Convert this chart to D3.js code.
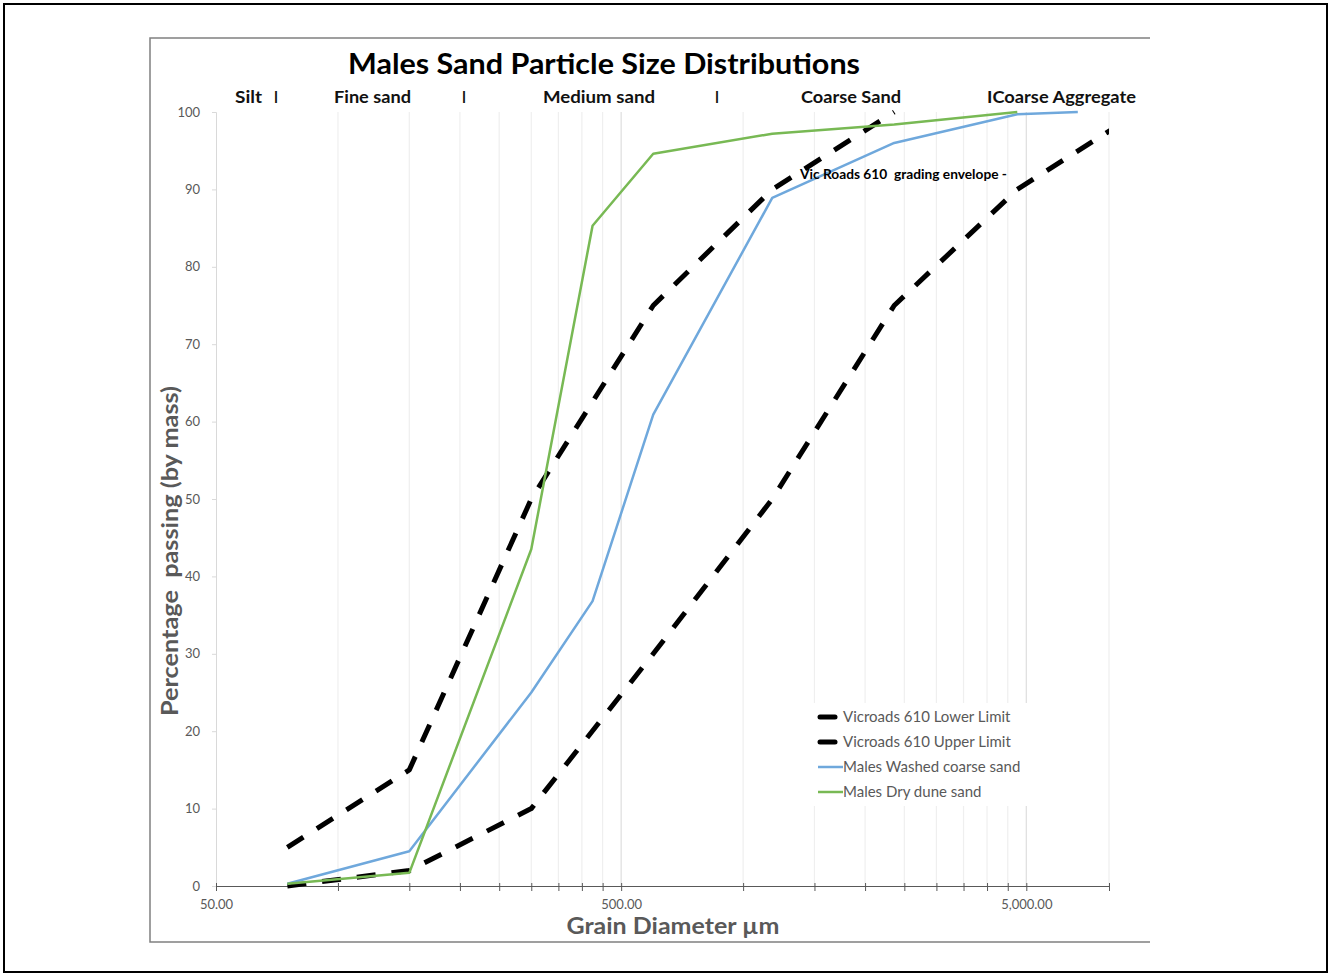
<!DOCTYPE html>
<html>
<head>
<meta charset="utf-8">
<script src="https://cdn.jsdelivr.net/npm/d3@7"></script>
<style>
  html, body { margin: 0; padding: 0; background: #fff; }
  svg { display: block; font-family: Lato, "Open Sans", sans-serif; }
</style>
</head>
<body>
<svg id="chart" width="1331" height="977"></svg>
<script>
// ---- data ----
const title = "Males Sand Particle Size Distributions";
const xTitle = "Grain Diameter µm";
const yTitle = "Percentage  passing (by mass)";
const annotation = "Vic Roads 610  grading envelope -";

const lowerSizes = [75, 150, 300, 600, 1180, 2360, 4750, 9500];
const lowerPass  = [0, 2, 10, 30, 50, 75, 90, 100];
const upperSizes = [75, 150, 300, 600, 1180, 2360];
const upperPass  = [5, 15, 50, 75, 90, 100];
const washedSizes = [75, 150, 300, 425, 600, 1180, 2360, 4750, 6700];
const washedPass  = [0.3, 4.5, 25, 36.8, 60.9, 88.9, 96, 99.7, 100];
const duneSizes = [75, 150, 300, 425, 600, 1180, 2360, 4750];
const dunePass  = [0.3, 1.7, 43.5, 85.3, 94.6, 97.2, 98.4, 100];

const seriesNames = ["Vicroads 610 Lower Limit", "Vicroads 610 Upper Limit",
                     "Males Washed coarse sand", "Males Dry dune sand"];

const xDomain = [50, 8000];
const xMajorTicks = [50, 500, 5000];
const xMinorTicks = [100, 150, 200, 250, 300, 350, 400, 450,
                     1000, 1500, 2000, 2500, 3000, 3500, 4000, 4500, 8000];
const yTicks = [0, 10, 20, 30, 40, 50, 60, 70, 80, 90, 100];

const bandLabels = ["Silt", "I", "Fine sand", "I", "Medium sand", "I", "Coarse Sand", "ICoarse Aggregate"];

// ---- layout ----
const svg = d3.select("#chart");
const L = 216, R = 1109, T = 112, B = 886;
const x = d3.scaleLog().domain(xDomain).range([L, R]);
const y = d3.scaleLinear().domain([0, 100]).range([B, T]);

// outer frame
svg.append("rect").attr("x", 4).attr("y", 4).attr("width", 1323).attr("height", 968)
  .attr("fill", "none").attr("stroke", "#000").attr("stroke-width", 2);
// chart area border (top, left, bottom)
svg.append("path").attr("d", "M1150,38 H150 V942 H1150")
  .attr("fill", "none").attr("stroke", "#808080").attr("stroke-width", 1.5);

// gridlines
const gridVals = xMinorTicks.concat(xMajorTicks.slice(1));
svg.append("g").selectAll("line").data(gridVals).join("line")
  .attr("x1", d => x(d)).attr("x2", d => x(d))
  .attr("y1", T).attr("y2", B)
  .attr("stroke", d => xMajorTicks.includes(d) ? "#dedede" : "#efefef")
  .attr("stroke-width", 1.2);

// y axis
const yAxis = d3.axisLeft(y).tickValues(yTicks).tickSize(4).tickPadding(12);
const gy = svg.append("g").attr("transform", `translate(${L},0)`).call(yAxis);
gy.select(".domain").attr("stroke", "#d9d9d9");
gy.selectAll(".tick line").attr("stroke", "#d9d9d9");
gy.selectAll(".tick text").attr("fill", "#595959").attr("font-size", 13)
  .attr("font-family", "Lato, 'Open Sans', sans-serif");

// x axis
const fmt = d3.format(",.2f");
const xAxis = d3.axisBottom(x).tickValues(xMajorTicks.concat(xMinorTicks))
  .tickSizeInner(5).tickSizeOuter(0).tickPadding(9)
  .tickFormat(d => xMajorTicks.includes(d) ? fmt(d) : "");
const gx = svg.append("g").attr("transform", `translate(0,${B})`).call(xAxis);
gx.select(".domain").attr("stroke", "#595959").attr("stroke-width", 1.2);
gx.selectAll(".tick line").attr("stroke", "#595959").attr("y1", -3);
gx.selectAll(".tick text").attr("fill", "#595959").attr("font-size", 13)
  .attr("font-family", "Lato, 'Open Sans', sans-serif");

// clip
svg.append("clipPath").attr("id", "plotclip").append("rect")
  .attr("x", L).attr("y", T - 6).attr("width", R - L).attr("height", B - T + 10);

const line = d3.line().x(d => x(d[0])).y(d => y(d[1]));
const zip = (a, b) => a.map((v, i) => [v, b[i]]);

const series = [
  { data: zip(lowerSizes, lowerPass), color: "#000", width: 5, dash: "19,16" },
  { data: zip(upperSizes, upperPass), color: "#000", width: 5, dash: "19,16" },
  { data: zip(washedSizes, washedPass), color: "#6fa8dc", width: 2.5, dash: null },
  { data: zip(duneSizes, dunePass), color: "#78b954", width: 2.5, dash: null }
];

const gLines = svg.append("g").attr("clip-path", "url(#plotclip)");
series.forEach(s => {
  gLines.append("path").datum(s.data).attr("d", line)
    .attr("fill", "none").attr("stroke", s.color).attr("stroke-width", s.width)
    .attr("stroke-dasharray", s.dash).attr("stroke-linejoin", "round");
});

// title
svg.append("text").attr("x", 604).attr("y", 74).attr("text-anchor", "middle")
  .attr("font-size", 29).attr("font-weight", "bold").attr("fill", "#000")
  .attr("textLength", 512).attr("lengthAdjust", "spacingAndGlyphs").text(title);

// band labels
const bandX = [235, 274, 334, 462, 543, 715, 801, 987];
const bandW = [27, 4, 77, 4, 112, 4, 100, 149];
svg.append("g").selectAll("text").data(bandLabels).join("text")
  .attr("x", (d, i) => bandX[i]).attr("y", 103)
  .attr("font-size", 17).attr("font-weight", "bold").attr("fill", "#111")
  .attr("textLength", (d, i) => bandW[i]).attr("lengthAdjust", "spacingAndGlyphs")
  .text(d => d);

// annotation
svg.append("text").attr("x", 800).attr("y", 179).attr("xml:space", "preserve")
  .style("white-space", "pre")
  .attr("font-size", 12.5).attr("font-weight", "bold").attr("fill", "#000")
  .attr("textLength", 207).attr("lengthAdjust", "spacingAndGlyphs").text(annotation);

// axis titles
svg.append("text").attr("x", 673).attr("y", 934).attr("text-anchor", "middle")
  .attr("font-size", 22).attr("font-weight", "bold").attr("fill", "#595959")
  .attr("textLength", 213).attr("lengthAdjust", "spacingAndGlyphs").text(xTitle);
svg.append("text").attr("transform", "translate(178,551) rotate(-90)").attr("text-anchor", "middle")
  .style("white-space", "pre")
  .attr("font-size", 23).attr("font-weight", "bold").attr("fill", "#595959")
  .attr("textLength", 330).attr("lengthAdjust", "spacingAndGlyphs").text(yTitle);

// legend
const lg = svg.append("g");
lg.append("rect").attr("x", 808).attr("y", 703).attr("width", 224).attr("height", 103).attr("fill", "#fff");
const legY = [717, 742, 767, 792];
seriesNames.forEach((name, i) => {
  const s = series[i];
  if (s.dash) {
    lg.append("line").attr("x1", 820).attr("x2", 835).attr("y1", legY[i]).attr("y2", legY[i])
      .attr("stroke", s.color).attr("stroke-width", 5).attr("stroke-linecap", "round");
  } else {
    lg.append("line").attr("x1", 818).attr("x2", 843).attr("y1", legY[i]).attr("y2", legY[i])
      .attr("stroke", s.color).attr("stroke-width", 2.5);
  }
  lg.append("text").attr("x", 843).attr("y", legY[i]).attr("dy", "0.35em")
    .attr("font-size", 15).attr("fill", "#595959").text(name);
});
</script>
</body>
</html>
